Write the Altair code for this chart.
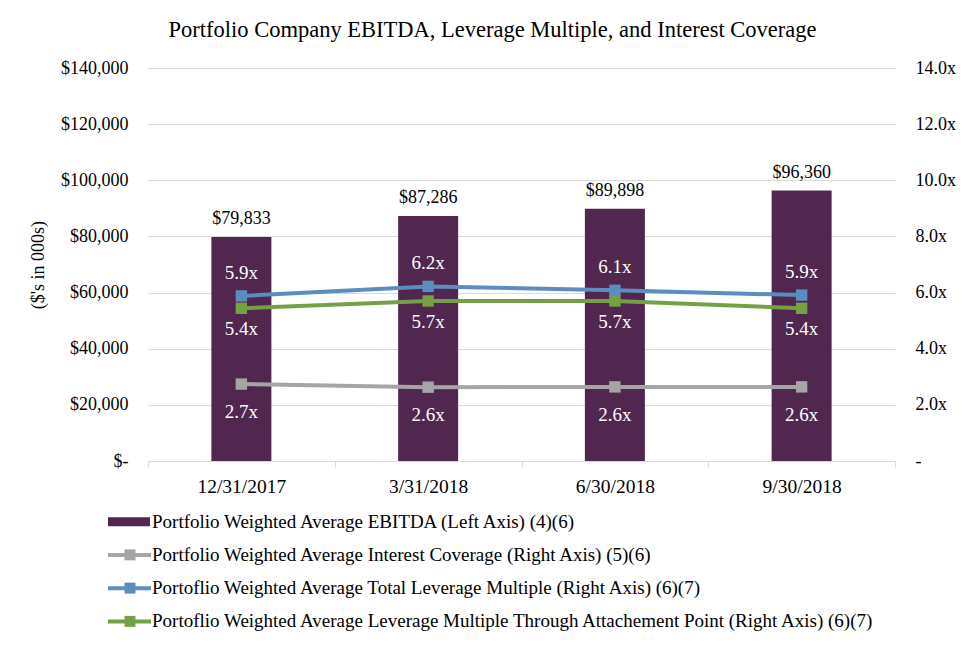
import altair as alt
import pandas as pd

dates = ["12/31/2017", "3/31/2018", "6/30/2018", "9/30/2018"]
ebitda = [79833, 87286, 89898, 96360]
interest_cov = [2.74, 2.63, 2.64, 2.64]
total_lev = [5.88, 6.22, 6.08, 5.91]
attach_lev = [5.44, 5.70, 5.70, 5.44]

series_names = [
    "Portfolio Weighted Average EBITDA (Left Axis) (4)(6)",
    "Portfolio Weighted Average Interest Coverage (Right Axis) (5)(6)",
    "Portoflio Weighted Average Total Leverage Multiple (Right Axis) (6)(7)",
    "Portoflio Weighted Average Leverage Multiple Through Attachement Point (Right Axis) (6)(7)",
]
colors = ["#51264F", "#A5A5A5", "#5B8DBF", "#76A046"]
FONT = "Liberation Serif"

bar_df = pd.DataFrame({"date": dates, "ebitda": ebitda})
line_rows = []
for name, vals in [("gray", interest_cov), ("blue", total_lev), ("green", attach_lev)]:
    for d, v in zip(dates, vals):
        line_rows.append({"date": d, "series": name, "value": v})
line_df = pd.DataFrame(line_rows)

xenc = alt.X("date:N", sort=dates, title=None,
             scale=alt.Scale(paddingInner=0, paddingOuter=0),
             axis=alt.Axis(labelAngle=0, domainColor="#D9D9D9", tickColor="#D9D9D9",
                           tickBand="extent", tickSize=6, labelPadding=10,
                           labelFont=FONT, labelFontSize=19.5, labelColor="black"))

yleft = alt.Y("ebitda:Q", scale=alt.Scale(domain=[0, 140000]),
              title="($'s in 000s)",
              axis=alt.Axis(values=list(range(0, 140001, 20000)), grid=True, gridColor="#D9D9D9",
                            domain=False, ticks=False, labelPadding=20,
                            labelExpr="datum.value == 0 ? '$-' : '$' + format(datum.value, ',')",
                            labelFont=FONT, labelFontSize=18, labelColor="black",
                            titleFont=FONT, titleFontSize=18, titleFontWeight="normal",
                            titleColor="black", titlePadding=13))

bars = alt.Chart(bar_df).mark_bar(size=60, color=colors[0]).encode(x=xenc, y=yleft)
bar_text = alt.Chart(bar_df).mark_text(dy=-18, font=FONT, fontSize=18, color="black").encode(
    x=xenc, y=alt.Y("ebitda:Q"), text=alt.Text("ebitda:Q", format="$,"))
left = alt.layer(bars, bar_text)

yright = alt.Y("value:Q", scale=alt.Scale(domain=[0, 14]), title=None,
               axis=alt.Axis(orient="right", values=list(range(0, 15, 2)), grid=False,
                             domain=False, ticks=False, labelPadding=20,
                             labelExpr="datum.value == 0 ? '-' : format(datum.value, '.1f') + 'x'",
                             labelFont=FONT, labelFontSize=18, labelColor="black"))

cscale = alt.Scale(domain=["gray", "blue", "green"], range=colors[1:])
lines = alt.Chart(line_df).mark_line(
    strokeWidth=4,
    point=alt.OverlayMarkDef(shape="square", size=130, filled=True, opacity=1)
).encode(x=xenc, y=yright, color=alt.Color("series:N", scale=cscale, legend=None))

text_layers = []
for s, dy in [("blue", -23), ("green", 21), ("gray", 28)]:
    text_layers.append(
        alt.Chart(line_df).transform_filter(alt.datum.series == s)
        .transform_calculate(lbl="format(datum.value, '.1f') + 'x'")
        .mark_text(dy=dy, font=FONT, fontSize=19, color="white")
        .encode(x=xenc, y=alt.Y("value:Q"), text="lbl:N")
    )
right = alt.layer(lines, *text_layers)

main = alt.layer(left, right).resolve_scale(y="independent").properties(width=747, height=393)

leg_df = pd.DataFrame({"name": series_names, "color": colors,
                       "kind": ["bar", "line", "line", "line"], "order": [0, 1, 2, 3]})
ly = alt.Y("order:O", axis=None, scale=alt.Scale(type="point", padding=0.5))
leg_rect = alt.Chart(leg_df).transform_filter(alt.datum.kind == "bar").mark_rect(height=9).encode(
    x=alt.value(-40), x2=alt.value(2), y=ly, color=alt.Color("color:N", scale=None))
leg_rule = alt.Chart(leg_df).transform_filter(alt.datum.kind == "line").mark_rule(strokeWidth=4).encode(
    x=alt.value(-40), x2=alt.value(3), y=ly, color=alt.Color("color:N", scale=None))
leg_pt = alt.Chart(leg_df).transform_filter(alt.datum.kind == "line").mark_point(
    shape="square", size=120, filled=True, opacity=1).encode(
    x=alt.value(-18), y=ly, color=alt.Color("color:N", scale=None))
leg_text = alt.Chart(leg_df).mark_text(align="left", font=FONT, fontSize=19, color="black").encode(
    x=alt.value(4), y=ly, text="name:N")
legend = alt.layer(leg_rect, leg_rule, leg_pt, leg_text).properties(width=747, height=133)

chart = alt.vconcat(main, legend, spacing=9).properties(
    title=alt.TitleParams("Portfolio Company EBITDA, Leverage Multiple, and Interest Coverage",
                          font=FONT, fontSize=22.5, fontWeight="normal", color="black",
                          anchor="middle", offset=18),
    padding={"left": 21, "top": 10, "right": 5, "bottom": 5}
).configure_view(stroke=None)

chart.save("out.html", embed_options={"renderer": "svg", "actions": False})
